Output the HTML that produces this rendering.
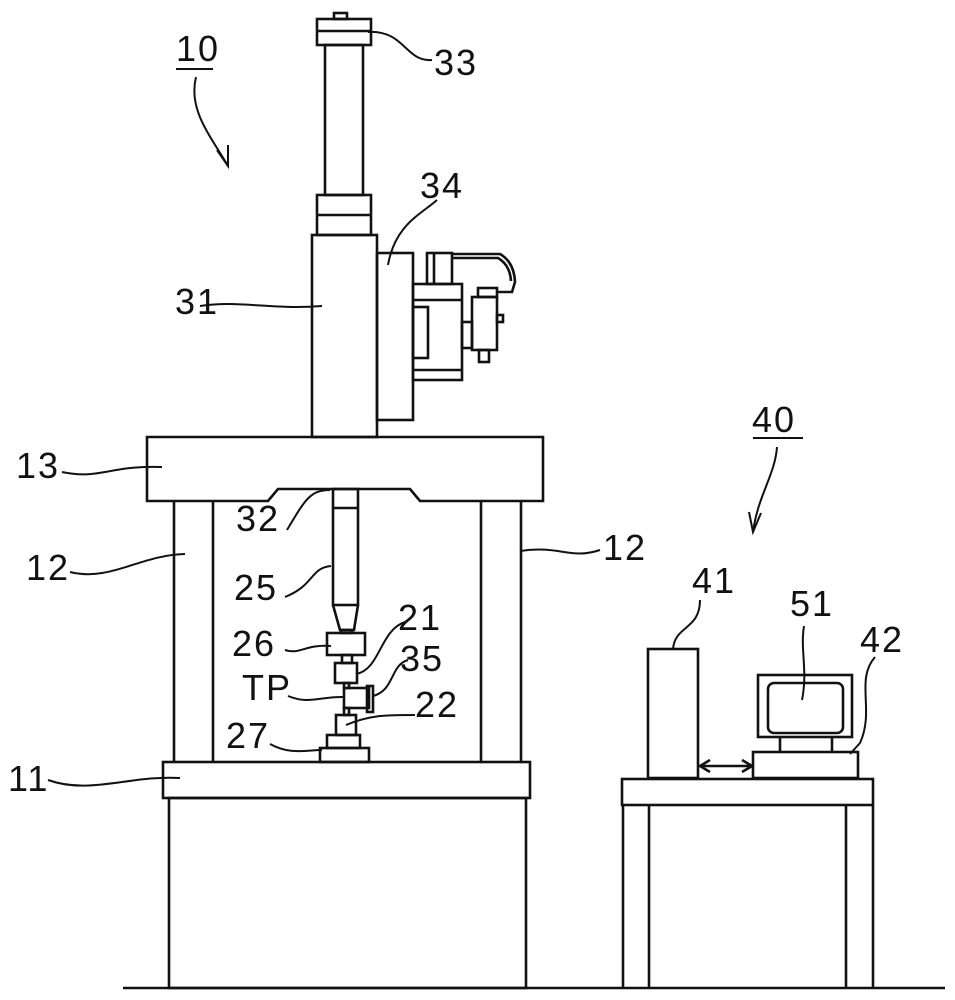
<!DOCTYPE html>
<html><head><meta charset="utf-8"><style>
html,body{margin:0;padding:0;background:#fff;}
svg{display:block;}
text{font-family:"Liberation Sans",sans-serif;font-size:36px;letter-spacing:2px;fill:#111;}
</style></head><body>
<svg width="955" height="1000" viewBox="0 0 955 1000" xmlns="http://www.w3.org/2000/svg">
<g fill="none" stroke="#111" stroke-width="2.6" stroke-linejoin="miter">
<line x1="123" y1="988" x2="945" y2="988"/>
<rect x="334" y="13" width="13" height="6"/>
<rect x="317" y="19" width="54" height="26"/>
<line x1="317" y1="31" x2="371" y2="31"/>
<rect x="325" y="45" width="38" height="150"/>
<rect x="317" y="195" width="54" height="40"/>
<line x1="317" y1="215" x2="371" y2="215"/>
<rect x="312" y="235" width="65" height="202"/>
<rect x="377" y="253" width="36" height="167"/>
<rect x="413" y="284" width="49" height="96"/>
<line x1="413" y1="300" x2="462" y2="300"/>
<rect x="413" y="307" width="15" height="51"/>
<line x1="413" y1="370" x2="462" y2="370"/>
<rect x="427" y="253" width="25" height="31"/>
<line x1="434" y1="253" x2="434" y2="284"/>
<path d="M452 254 L500 254 Q514 262 515 282 L512 292 L498 292"/>
<path d="M452 258 L498 258 Q510 265 511 281"/>
<rect x="462" y="322" width="10" height="26"/>
<rect x="472" y="297" width="25" height="53"/>
<rect x="478" y="288" width="19" height="9"/>
<rect x="497" y="315" width="6" height="7"/>
<rect x="479" y="350" width="10" height="12"/>
<path d="M147 437 L543 437 L543 501 L420 501 L410 489 L278 489 L268 501 L147 501 Z"/>
<line x1="174" y1="501" x2="174" y2="762"/>
<line x1="213" y1="501" x2="213" y2="762"/>
<line x1="481" y1="501" x2="481" y2="762"/>
<line x1="521" y1="501" x2="521" y2="762"/>
<rect x="163" y="762" width="367" height="36"/>
<rect x="169" y="798" width="357" height="190"/>
<rect x="333" y="489" width="25" height="116"/>
<line x1="333" y1="508" x2="358" y2="508"/>
<path d="M333 605 L340 630 L354 630 L358 605"/>
<rect x="341" y="630" width="11" height="3"/>
<rect x="327" y="633" width="38" height="22"/>
<rect x="342" y="655" width="10" height="8"/>
<rect x="335" y="663" width="22" height="20"/>
<rect x="344" y="683" width="5" height="5"/>
<rect x="344" y="688" width="25" height="20"/>
<rect x="367" y="686" width="6" height="26"/>
<rect x="344" y="708" width="5" height="7"/>
<rect x="336" y="715" width="20" height="20"/>
<rect x="327" y="735" width="33" height="13"/>
<rect x="320" y="748" width="49" height="14"/>
<rect x="648" y="649" width="50" height="129"/>
<rect x="758" y="675" width="94" height="62"/>
<rect x="768" y="683" width="75" height="50" rx="6"/>
<line x1="780" y1="737" x2="780" y2="752"/>
<line x1="832" y1="737" x2="832" y2="752"/>
<rect x="753" y="752" width="105" height="26"/>
<line x1="700" y1="766" x2="752" y2="766"/>
<path d="M710 760 L700 766 L710 772 M742 760 L752 766 L742 772"/>
<rect x="622" y="779" width="251" height="26"/>
<line x1="623" y1="805" x2="623" y2="988"/>
<line x1="649" y1="805" x2="649" y2="988"/>
<line x1="846" y1="805" x2="846" y2="988"/>
<line x1="873" y1="805" x2="873" y2="988"/>
</g>
<g fill="none" stroke="#111" stroke-width="2">
<line x1="176" y1="69" x2="213" y2="69"/>
<path d="M196 77 C188 110 210 135 228 166"/>
<path d="M217 150 L228 166 L228 145"/>
<line x1="753" y1="438" x2="803" y2="438"/>
<path d="M777 447 C775 475 758 495 753 532"/>
<path d="M749 512 L753 532 L761 513"/>
<path d="M368 32 C405 30 405 62 432 60"/>
<path d="M388 265 C395 225 420 215 437 200"/>
<path d="M200 306 C240 300 270 310 322 306"/>
<path d="M62 472 C100 480 110 465 162 467"/>
<path d="M70 572 C110 582 140 555 185 554"/>
<path d="M48 780 C90 795 130 775 180 778"/>
<path d="M600 550 C570 560 560 545 520 551"/>
<path d="M287 530 C305 500 310 490 330 490"/>
<path d="M285 597 C315 585 310 568 331 566"/>
<path d="M285 650 C300 655 305 644 331 646"/>
<path d="M356 674 C380 670 380 630 405 622"/>
<path d="M288 696 C310 705 320 696 345 697"/>
<path d="M373 696 C395 690 390 665 408 660"/>
<path d="M346 725 C370 715 385 715 415 715"/>
<path d="M270 744 C290 755 305 750 322 750"/>
<path d="M700 600 C700 630 675 625 673 649"/>
<path d="M804 626 C800 650 808 670 802 700"/>
<path d="M875 657 C855 680 875 710 860 743 L850 754"/>
</g>
<g>
<text x="176" y="61">10</text>
<text x="752" y="432">40</text>
<text x="434" y="75">33</text>
<text x="420" y="198">34</text>
<text x="175" y="314">31</text>
<text x="16" y="478">13</text>
<text x="26" y="580">12</text>
<text x="603" y="560">12</text>
<text x="8" y="791">11</text>
<text x="236" y="531">32</text>
<text x="234" y="600">25</text>
<text x="232" y="656">26</text>
<text x="398" y="630">21</text>
<text x="242" y="700">TP</text>
<text x="400" y="671">35</text>
<text x="415" y="717">22</text>
<text x="226" y="748">27</text>
<text x="692" y="593">41</text>
<text x="790" y="616">51</text>
<text x="860" y="652">42</text>
</g>
</svg>
</body></html>
